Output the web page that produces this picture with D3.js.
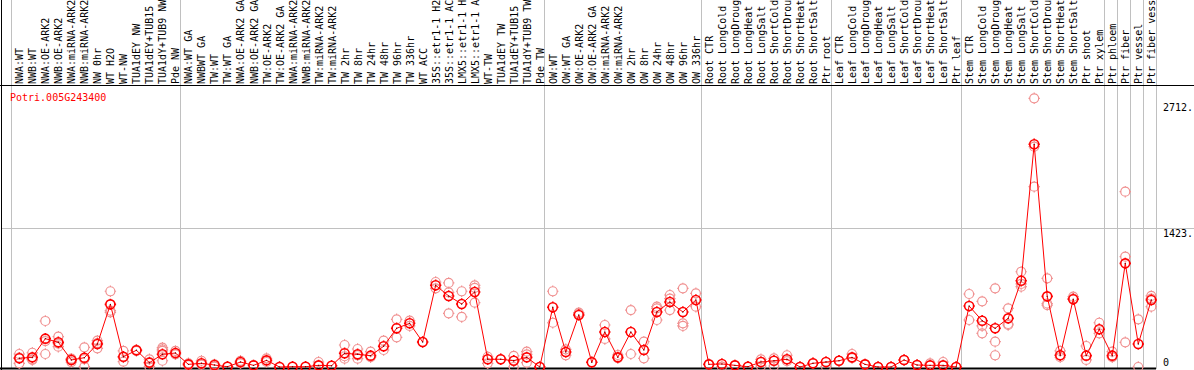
<!DOCTYPE html>
<html>
<head>
<meta charset="utf-8">
<script src="https://cdn.jsdelivr.net/npm/d3@7"></script>
<style>
  html, body { margin: 0; padding: 0; background: #fff; }
  svg { display: block; }
  text { font-family: "DejaVu Sans Mono", monospace; font-size: 10px; }
</style>
</head>
<body>
<div id="chart"></div>
<script>
const geneName = "Potri.005G243400";

const categories = [
  "NWA:WT", "NWB:WT", "NWA:OE-ARK2", "NWB:OE-ARK2", "NWA:miRNA-ARK2", "NWB:miRNA-ARK2",
  "NW 0hr", "WT H2O", "WT-NW", "TUA1dEY NW", "TUA1dEY+TUB15", "TUA1dY+TUB9 NW", "Pde NW",
  "NWA:WT GA", "NWBWT GA", "TW:WT", "TW:WT GA", "NWA:OE-ARK2 GA", "NWB:OE-ARK2 GA",
  "TW:OE-ARK2", "TW:OE-ARK2 GA", "NWA:miRNA-ARK2", "NWB:miRNA-ARK2", "TW:miRNA-ARK2",
  "TW:miRNA-ARK2", "TW 2hr", "TW 8hr", "TW 24hr", "TW 48hr", "TW 96hr", "TW 336hr",
  "WT ACC", "35S::etr1-1 H2", "35S::etr1-1 AC", "LMX5::etr1-1 H", "LMX5::etr1-1 A",
  "WT-TW", "TUA1dEY TW", "TUA1dEY+TUB15", "TUA1dY+TUB9 TW", "Pde TW",
  "OW:WT", "OW:WT GA", "OW:OE-ARK2", "OW:OE-ARK2 GA", "OW:miRNA-ARK2", "OW:miRNA-ARK2",
  "OW 2hr", "OW 8hr", "OW 24hr", "OW 48hr", "OW 96hr", "OW 336hr",
  "Root CTR", "Root LongCold", "Root LongDroug", "Root LongHeat", "Root LongSalt",
  "Root ShortCold", "Root ShortDrou", "Root ShortHeat", "Root ShortSalt", "Ptr root",
  "Leaf CTR", "Leaf LongCold", "Leaf LongDroug", "Leaf LongHeat", "Leaf LongSalt",
  "Leaf ShortCold", "Leaf ShortDrou", "Leaf ShortHeat", "Leaf ShortSalt", "Ptr leaf",
  "Stem CTR", "Stem LongCold", "Stem LongDroug", "Stem LongHeat", "Stem LongSalt",
  "Stem ShortCold", "Stem ShortDrou", "Stem ShortHeat", "Stem ShortSalt", "Ptr shoot", "Ptr xylem",
  "Ptr phloem", "Ptr fiber", "Ptr vessel", "Ptr fiber vess"
];

// index of the first column of each sample group (vertical separators)
const groupStarts = [0, 13, 41, 53, 63, 73, 84, 85, 86, 87, 88];

const means = [
  89, 99, 290, 253, 72, 95, 235, 641, 105, 171, 44, 130, 143,
  27, 38, 20, 3, 51, 17, 68, 0, 3, 3, 17, 13, 140, 130, 116, 212, 396, 447,
  256, 836, 727, 645, 768, 79, 79, 64, 99, 0,
  611, 153, 532, 48, 358, 99, 358, 174, 563, 665, 563, 686,
  27, 31, 17, 3, 51, 64, 79, 0, 38, 51,
  64, 99, 27, 0, 0, 72, 20, 17, 17, 0,
  624, 474, 396, 498, 883, 2279, 723, 120, 693, 116, 386,
  116, 1061, 235, 686
];

const replicates = [
  [133, 38, 95], [146, 79, 72], [471, 133, 265], [310, 208, 240], [80, 50, 85], [201, 3, 80],
  [270, 191, 245], [775, 576, 560], [164, 54, 100], [164, 175], [79, 3, 50], [198, 164, 64, 180], [164, 130],
  [38, 20], [64, 25], [27, 3], [3], [64, 38], [17], [89, 51], [0], [3], [3], [51, 10], [13],
  [225, 85, 110], [184, 85, 120], [157, 100], [269, 174], [488, 304], [474, 420],
  [256], [870, 805], [860, 764, 549], [775, 512], [836, 810, 658],
  [105, 38], [79], [113, 0, 64], [157, 130, 44], [0],
  [775, 453], [181, 120], [556, 545], [48], [430, 287], [123, 90], [583, 133], [259, 89],
  [617, 481, 600], [737, 583, 700], [805, 447, 420], [754, 617],
  [27], [3], [17], [3], [79, 10], [89, 10], [120, 60], [0], [38], [3],
  [64], [133, 90], [27], [0], [0], [72], [20], [38], [51], [0],
  [747, 481], [672, 420, 345], [805, 259, 120], [600, 430, 440], [975, 822, 850],
  [2750, 1845, 2255], [908, 634, 650], [164, 100], [720, 700], [215, 72], [453, 345],
  [157, 100], [1129, 1794, 253], [488, 0], [727, 617, 700]
];

const yTicks = [0, 1423, 2712];
const yTickLabels = ["0", "1423.", "2712."];

const width = 1194, height = 370;
const labelBottom = 86, plotBottom = 369;

const svg = d3.select("#chart").append("svg")
  .attr("width", width)
  .attr("height", height);

const x = d3.scaleBand()
  .domain(d3.range(categories.length))
  .range([11, 1156])
  .paddingInner(0).paddingOuter(0);
const px = i => x(i) + 8.3;

const y = d3.scaleLinear().domain([0, 2712]).range([367, 102]);

// grid: separators and the middle horizontal line
svg.append("g")
  .selectAll("line")
  .data(groupStarts)
  .enter().append("line")
  .attr("x1", d => Math.round(d < categories.length ? x(d) : x.range()[1]) + 0.5)
  .attr("x2", d => Math.round(d < categories.length ? x(d) : x.range()[1]) + 0.5)
  .attr("y1", 0).attr("y2", plotBottom)
  .attr("stroke", "#c0c0c0");

svg.append("line")
  .attr("x1", 1).attr("x2", width)
  .attr("y1", Math.round(y(1423)) + 0.5).attr("y2", Math.round(y(1423)) + 0.5)
  .attr("stroke", "#c0c0c0");

// frame
svg.append("line").attr("x1", 0).attr("x2", width)
  .attr("y1", labelBottom - 0.5).attr("y2", labelBottom - 0.5).attr("stroke", "#000");
svg.append("line").attr("x1", 1.5).attr("x2", 1.5)
  .attr("y1", 0).attr("y2", height).attr("stroke", "#000");
svg.append("line").attr("x1", 0).attr("x2", 1156)
  .attr("y1", plotBottom - 0.5).attr("y2", plotBottom - 0.5).attr("stroke", "#000").attr("stroke-width", 2);

// column labels
svg.append("g")
  .selectAll("text")
  .data(categories)
  .enter().append("text")
  .attr("transform", (d, i) => `translate(${px(i) + 4},${labelBottom - 2}) rotate(-90)`)
  .attr("fill", "#000")
  .text(d => d);

// y labels at right
svg.append("g")
  .selectAll("text")
  .data(yTicks)
  .enter().append("text")
  .attr("x", 1163)
  .attr("y", (d, i) => d === 0 ? 366 : y(d) + 9)
  .attr("fill", "#000")
  .text((d, i) => yTickLabels[i]);

// gene name
svg.append("text")
  .attr("x", 10).attr("y", 101)
  .attr("fill", "#ff0000")
  .text(geneName);

const plot = svg.append("g");

// small ring with four ticks, like the original markers
const marker = (r, t) =>
  `M${-r},0a${r},${r} 0 1,0 ${2 * r},0a${r},${r} 0 1,0 ${-2 * r},0` +
  `M0,${-r}v${-t}M0,${r}v${t}M${-r},0h${-t}M${r},0h${t}`;

// replicate points
const reps = [];
replicates.forEach((arr, i) => arr.forEach(v => reps.push({ i, v })));
plot.append("g")
  .selectAll("path")
  .data(reps)
  .enter().append("path")
  .attr("transform", d => `translate(${px(d.i)},${y(d.v)})`)
  .attr("d", marker(4.5, 1.2))
  .attr("fill", "none")
  .attr("stroke", "#f09090")
  .attr("stroke-width", 1.2);

// mean line
const line = d3.line()
  .x((d, i) => px(i))
  .y(d => y(d));
plot.append("path")
  .datum(means)
  .attr("d", line)
  .attr("fill", "none")
  .attr("stroke", "#ff0000")
  .attr("stroke-width", 1);

// mean markers
const meanG = plot.append("g")
  .selectAll("g")
  .data(means)
  .enter().append("g")
  .attr("transform", (d, i) => `translate(${px(i)},${y(d)})`);
meanG.append("path")
  .attr("d", marker(4.5, 1.2))
  .attr("fill", "none")
  .attr("stroke", "#ff0000")
  .attr("stroke-width", 1.6);
meanG.append("circle")
  .attr("r", 0.7)
  .attr("fill", "#600000");
</script>
</body>
</html>
